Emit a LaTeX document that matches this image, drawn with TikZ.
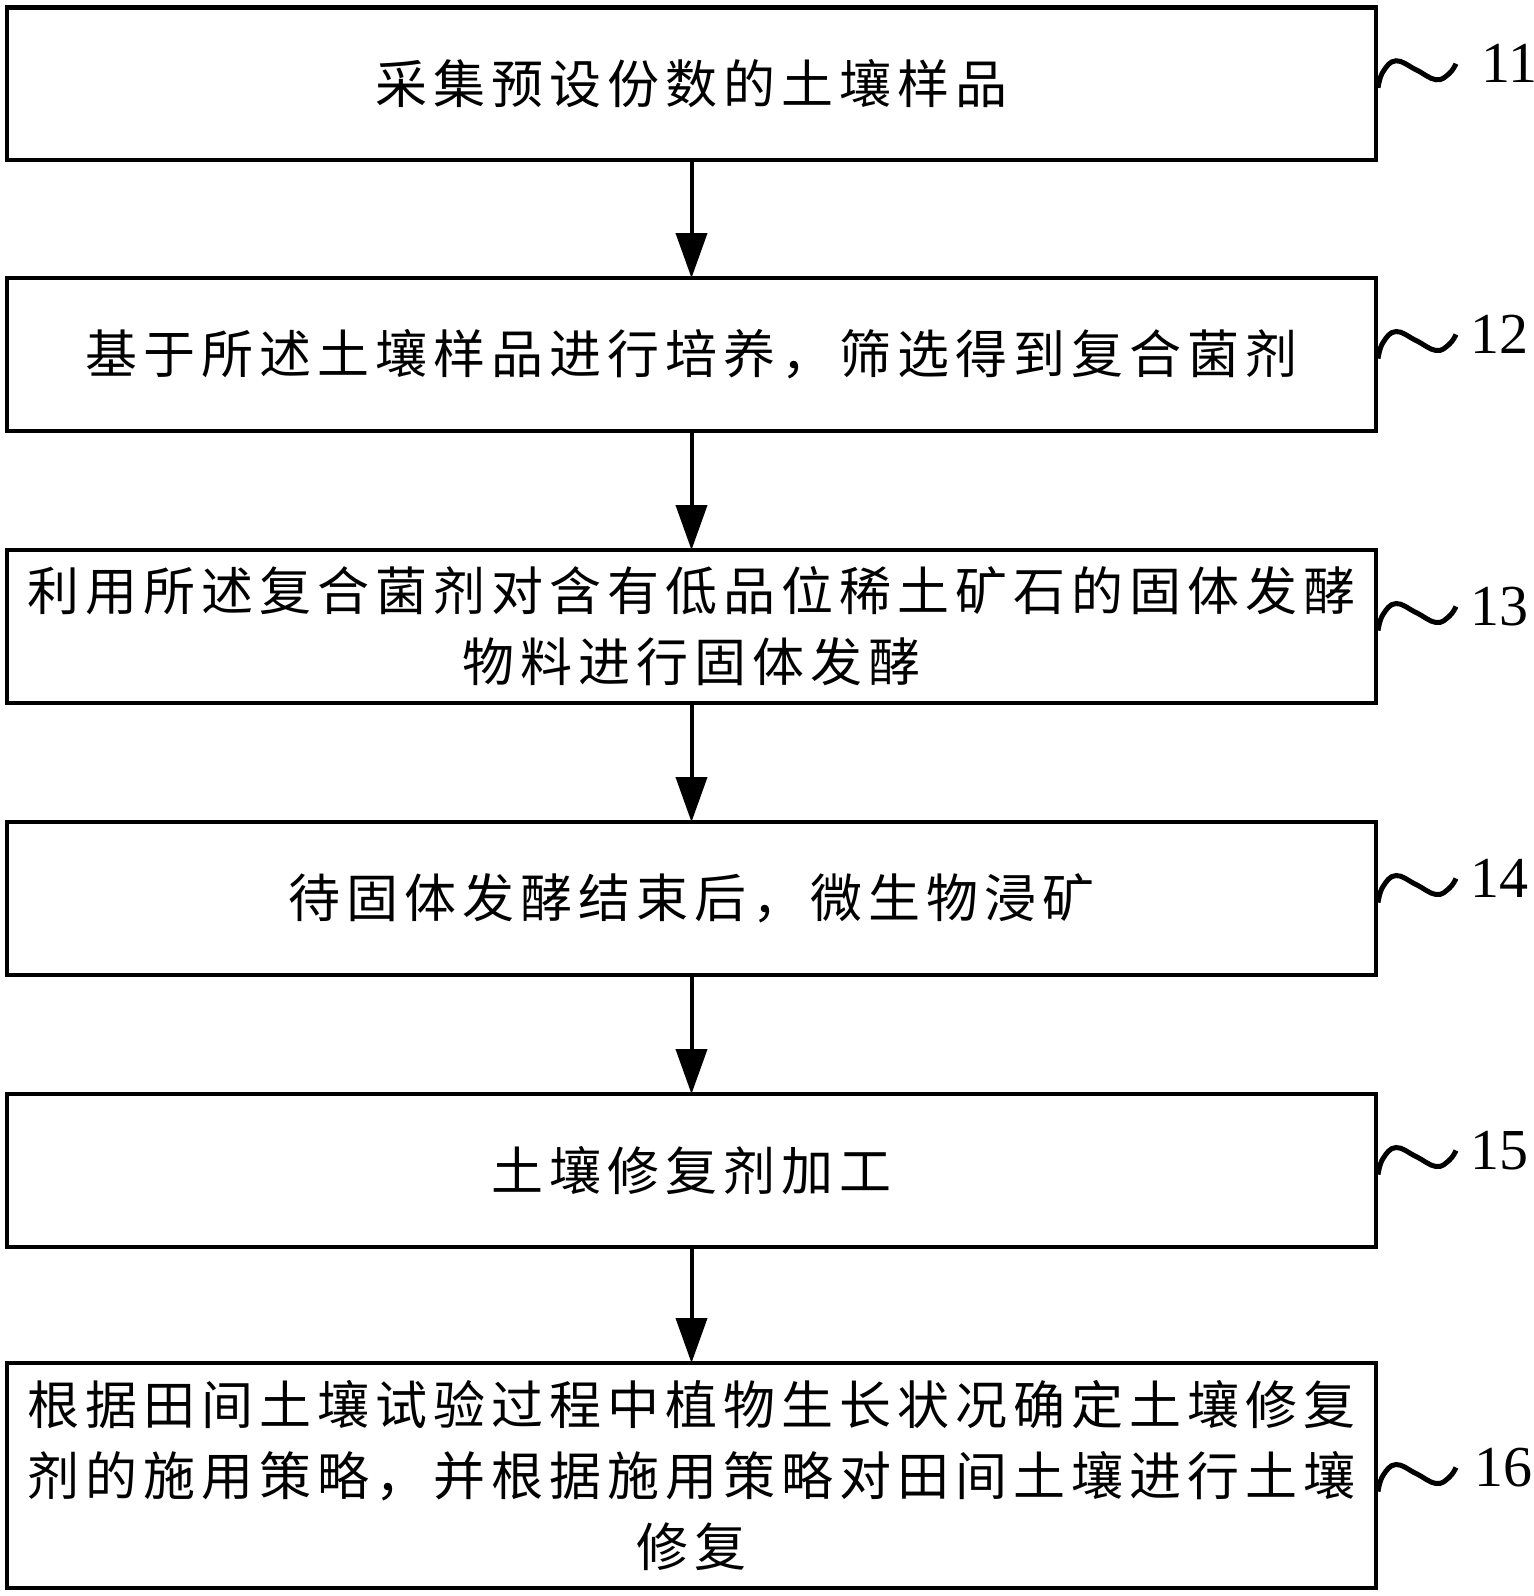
\documentclass[tikz,border=0pt]{standalone}
\usepackage{fontspec}
\setmainfont{Liberation Serif}
\newfontfamily\cjk[LetterSpace=11.5]{Noto Sans CJK SC}
\usetikzlibrary{arrows.meta}
\begin{document}
\begin{tikzpicture}[x=1pt,y=-1pt,
  box/.style={draw, line width=4.5pt, minimum width=1369pt, inner sep=0pt, outer sep=0pt,
    font=\cjk\fontsize{52}{71}\selectfont, align=center},
  arr/.style={line width=4pt, -{Triangle[width=31pt,length=45pt]}},
  tld/.style={line width=5pt},
  lab/.style={font=\fontsize{58}{60}\selectfont, inner sep=0pt, anchor=base west}]
\useasboundingbox (0,0) rectangle (1534,1596);
\node[box, minimum height=152.5pt] (b1) at (691.5,83.75) {采集预设份数的土壤样品};
\node[box, minimum height=153pt] (b2) at (691.5,354.5) {基于所述土壤样品进行培养，筛选得到复合菌剂};
\node[box, minimum height=153pt] (b3) at (691.5,626.5) {利用所述复合菌剂对含有低品位稀土矿石的固体发酵\\物料进行固体发酵};
\node[box, minimum height=153pt] (b4) at (691.5,898.5) {待固体发酵结束后，微生物浸矿};
\node[box, minimum height=153pt] (b5) at (691.5,1170.5) {土壤修复剂加工};
\node[box, minimum height=225pt] (b6) at (691.5,1475.5) {根据田间土壤试验过程中植物生长状况确定土壤修复\\剂的施用策略，并根据施用策略对田间土壤进行土壤\\修复};
\draw[arr] (b1.south) -- (b2.north);
\draw[arr] (b2.south) -- (b3.north);
\draw[arr] (b3.south) -- (b4.north);
\draw[arr] (b4.south) -- (b5.north);
\draw[arr] (b5.south) -- (b6.north);
\foreach \b/\dy/\dx/\t in {b1/0/105/11, b2/0/94/12, b3/0/94/13, b4/0/94/14, b5/0/94/15, b6/12/98/16}{
  \begin{scope}[shift={(\b.east)}]
    \draw[tld] plot[smooth, tension=0.7] coordinates {(2,4+\dy) (7,-12+\dy) (20,-23+\dy) (40,-14+\dy) (60,-4+\dy) (73,-10+\dy) (80,-20+\dy)};
  \end{scope}
  \node[lab] (l\t) at ([shift={(\dx,\dy-1)}]\b.east) {\t};
}
\end{tikzpicture}
\end{document}
